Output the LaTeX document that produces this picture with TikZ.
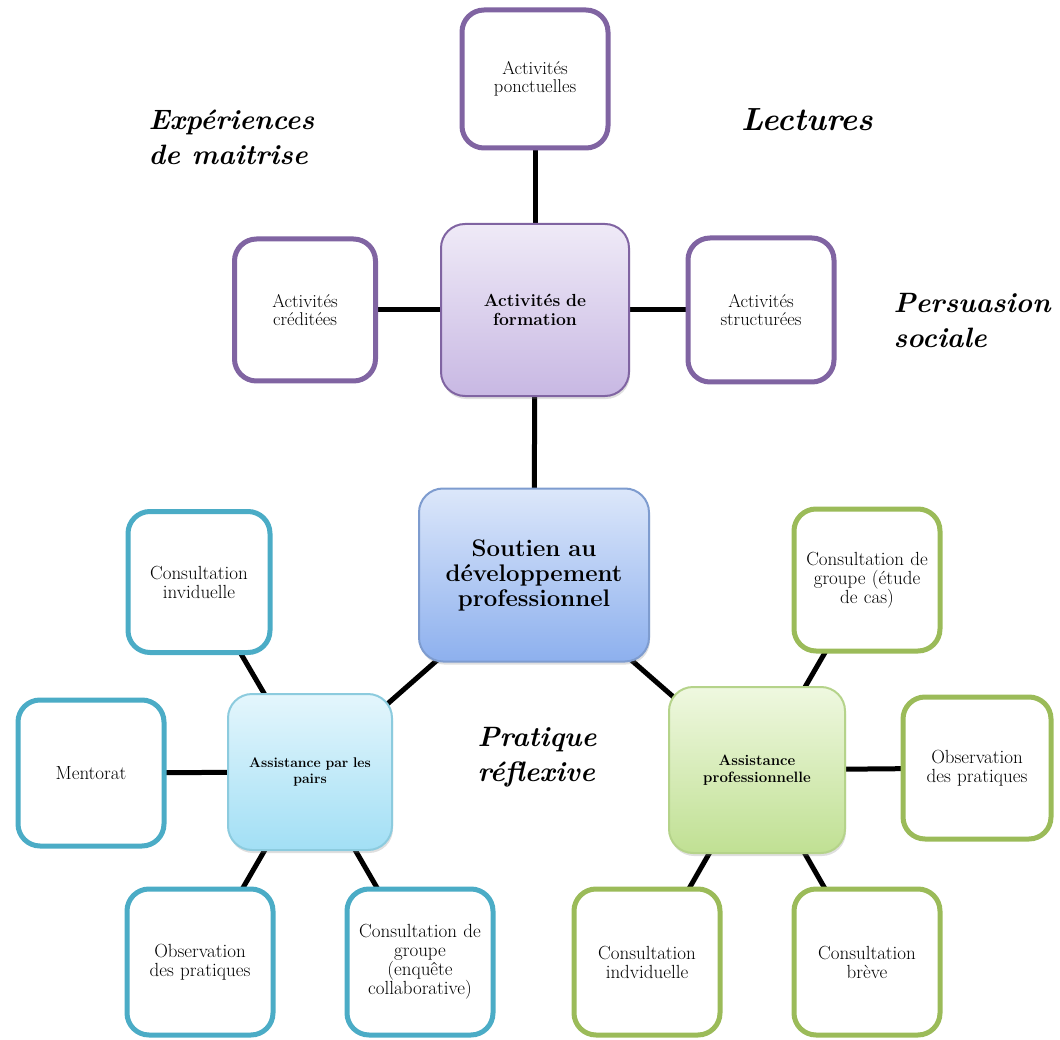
\documentclass[tikz,border=0pt]{standalone}
\usepackage{tikz,xcolor}
\usetikzlibrary{backgrounds,shadows}
\definecolor{violet edge}{HTML}{8064A2}
\definecolor{violet top}{HTML}{EFEAF7}
\definecolor{violet bottom}{HTML}{C8B8E3}
\definecolor{blue edge}{HTML}{7E9CCF}
\definecolor{blue top}{HTML}{DCE7FA}
\definecolor{blue bottom}{HTML}{8DB0EE}
\definecolor{aqua edge}{HTML}{4BACC6}
\definecolor{aqua line}{HTML}{8CCBDE}
\definecolor{aqua top}{HTML}{E4F6FC}
\definecolor{aqua bottom}{HTML}{A2DFF5}
\definecolor{olive edge}{HTML}{9BBB59}
\definecolor{olive line}{HTML}{B5D38A}
\definecolor{olive top}{HTML}{EFF8E0}
\definecolor{olive bottom}{HTML}{C0E093}
\tikzset{leaf/.style={draw=#1, line width=5pt, fill=white, rounded corners=22pt,
        minimum width=146pt, minimum height=142pt, text width=134pt, align=center,
        font=\fontsize{19}{19}\selectfont},
    hub/.style={draw=#1, line width=2pt, rounded corners=24pt, align=center,
        drop shadow={opacity=0.25, shadow xshift=1pt, shadow yshift=-3pt}},
    tag/.style={font=\fontsize{28}{35}\selectfont\bfseries\itshape, align=left},
    link/.style={line width=5pt, black}}

\begin{document}
\begin{tikzpicture}[x=1pt, y=-1pt]
    \useasboundingbox (0,0) rectangle (1060,1040);
    % Centre
    \node[hub=blue edge, top color=blue top, bottom color=blue bottom,
          minimum width=230pt, minimum height=173pt, text width=215pt,
          font=\fontsize{24}{25}\selectfont\bfseries] (soutien) at (534,575)
          {Soutien au\\développement\\professionnel};
    %
    % Activités de formation
    \node[hub=violet edge, top color=violet top, bottom color=violet bottom,
          minimum width=188pt, minimum height=172pt, text width=160pt,
          font=\fontsize{17.5}{18.5}\selectfont\bfseries] (formation) at (535,310)
          {Activités de\\formation};
    \node[leaf=violet edge, minimum width=146pt, minimum height=138pt,
          font=\fontsize{18.5}{17.5}\selectfont] (ponctuelles) at (535,79)
          {Activités\\ponctuelles};
    \node[leaf=violet edge, minimum width=141pt,
          font=\fontsize{18.5}{17.5}\selectfont] (creditees) at (305,310)
          {Activités\\créditées};
    \node[leaf=violet edge, minimum height=144pt,
          font=\fontsize{18.5}{17.5}\selectfont] (structurees) at (761,310)
          {Activités\\structurées};
    %
    % Assistance par les pairs
    \node[hub=aqua line, top color=aqua top, bottom color=aqua bottom,
          minimum width=164pt, minimum height=156pt, text width=145pt,
          font=\fontsize{14}{16.5}\selectfont\bfseries] (pairs) at (310,772)
          {Assistance par les\\pairs};
    \node[leaf=aqua edge, minimum width=142pt, minimum height=141pt] (invid) at (199,582)
          {Consultation\\inviduelle};
    \node[leaf=aqua edge, minimum height=146pt] (mentorat) at (91,773) {Mentorat};
    \node[leaf=aqua edge, minimum height=146pt] (obsgauche) at (200,962)
          {Observation\\des pratiques};
    \node[leaf=aqua edge, minimum height=146pt] (enquete) at (420,962)
          {Consultation de\\groupe\\(enquête\\collaborative)};
    %
    % Assistance professionnelle
    \node[hub=olive line, top color=olive top, bottom color=olive bottom,
          minimum width=176pt, minimum height=166pt, text width=165pt,
          font=\fontsize{15}{16.5}\selectfont\bfseries] (prof) at (757,770)
          {Assistance\\professionnelle};
    \node[leaf=olive edge] (etude) at (867,580) {Consultation de\\groupe (étude\\de cas)};
    \node[leaf=olive edge, minimum width=148pt] (obsdroite) at (977,768)
          {Observation\\des pratiques};
    \node[leaf=olive edge, minimum height=146pt] (indv) at (647,962)
          {Consultation\\indviduelle};
    \node[leaf=olive edge, minimum height=146pt] (breve) at (867,962)
          {Consultation\\brève};
    %
    % Sources
    \node[tag, anchor=west] (maitrise) at (145,137) {Expériences\\de maitrise};
    \node[tag, font=\fontsize{32}{35}\selectfont\bfseries\itshape] (lectures) at (807,120) {Lectures};
    \node[tag, anchor=west] (persuasion) at (890,321) {Persuasion\\sociale};
    \node[tag, anchor=west] (reflexive) at (474,757) {Pratique\\réflexive};
    %
    \begin{scope}[on background layer]
    \foreach \from/\to in {ponctuelles/formation, creditees/formation,
            formation/structurees, formation/soutien, soutien/pairs, soutien/prof,
            invid/pairs, mentorat/pairs, pairs/obsgauche, pairs/enquete,
            etude/prof, prof/obsdroite, prof/indv, prof/breve}
        \draw[link] (\from.center) -- (\to.center);
    \end{scope}
\end{tikzpicture}
\end{document}
